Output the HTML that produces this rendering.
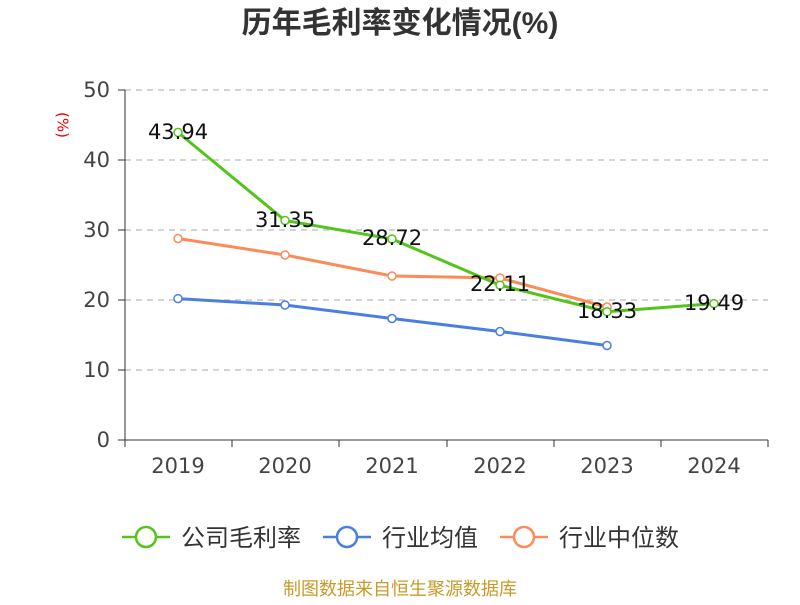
<!DOCTYPE html>
<html><head><meta charset="utf-8"><style>
html,body{margin:0;padding:0;background:#fff;}
svg text{font-family:"DejaVu Sans","Noto Sans CJK SC",sans-serif;}
</style></head><body>
<svg width="800" height="600" xmlns="http://www.w3.org/2000/svg">
<rect width="800" height="600" fill="#fff"/>
<text x="400" y="33" text-anchor="middle" font-size="30" font-weight="bold" fill="#333" style="font-family:'Liberation Sans','Noto Sans CJK SC',sans-serif">历年毛利率变化情况(%)</text>
<text x="62" y="125" font-size="15" fill="#e00" transform="rotate(90 62 125)" text-anchor="middle" dominant-baseline="middle">(%)</text>
<g stroke="#bbb" stroke-dasharray="6,5" stroke-width="1.2">
<line x1="125" y1="90" x2="768" y2="90"/><line x1="125" y1="160" x2="768" y2="160"/>
<line x1="125" y1="230" x2="768" y2="230"/><line x1="125" y1="300" x2="768" y2="300"/>
<line x1="125" y1="370" x2="768" y2="370"/>
</g>
<g stroke="#333" stroke-width="1">
<line x1="125" y1="90" x2="125" y2="440"/><line x1="125" y1="440" x2="768" y2="440"/>
<line x1="118" y1="90" x2="125" y2="90"/><line x1="118" y1="160" x2="125" y2="160"/>
<line x1="118" y1="230" x2="125" y2="230"/><line x1="118" y1="300" x2="125" y2="300"/>
<line x1="118" y1="370" x2="125" y2="370"/><line x1="118" y1="440" x2="125" y2="440"/>
<line x1="125" y1="440" x2="125" y2="447"/><line x1="232" y1="440" x2="232" y2="447"/>
<line x1="339" y1="440" x2="339" y2="447"/><line x1="447" y1="440" x2="447" y2="447"/>
<line x1="554" y1="440" x2="554" y2="447"/><line x1="661" y1="440" x2="661" y2="447"/>
<line x1="768" y1="440" x2="768" y2="447"/>
</g>
<g font-size="21" fill="#444" text-anchor="end">
<text x="110" y="97">50</text><text x="110" y="167">40</text><text x="110" y="237">30</text>
<text x="110" y="307">20</text><text x="110" y="377">10</text><text x="110" y="447">0</text>
</g>
<g font-size="21" fill="#444" text-anchor="middle">
<text x="178" y="473">2019</text><text x="285" y="473">2020</text><text x="392" y="473">2021</text>
<text x="500" y="473">2022</text><text x="607" y="473">2023</text><text x="714" y="473">2024</text>
</g>
<polyline fill="none" stroke="#4a7fe0" stroke-width="3" points="178,298.6 285,305 392,318.5 500,331.5 607,345.5"/>
<polyline fill="none" stroke="#fa8c5a" stroke-width="3" points="178,238.5 285,255 392,276 500,278 607,307"/>
<polyline fill="none" stroke="#52c41a" stroke-width="3" points="178,132.4 285,220.5 392,239 500,285.2 607,311.7 714,303.6"/>
<g fill="#fff" stroke-width="1.5">
<g stroke="#4a7fe0"><circle cx="178" cy="298.6" r="4"/><circle cx="285" cy="305" r="4"/><circle cx="392" cy="318.5" r="4"/><circle cx="500" cy="331.5" r="4"/><circle cx="607" cy="345.5" r="4"/></g>
<g stroke="#fa8c5a"><circle cx="178" cy="238.5" r="4"/><circle cx="285" cy="255" r="4"/><circle cx="392" cy="276" r="4"/><circle cx="500" cy="278" r="4"/><circle cx="607" cy="307" r="4"/></g>
<g stroke="#52c41a"><circle cx="178" cy="132.4" r="4"/><circle cx="285" cy="220.5" r="4"/><circle cx="392" cy="239" r="4"/><circle cx="500" cy="285.2" r="4"/><circle cx="607" cy="311.7" r="4"/><circle cx="714" cy="303.6" r="4"/></g>
</g>
<g font-size="21" fill="#111" text-anchor="middle">
<text x="178" y="139">43.94</text><text x="285" y="227">31.35</text><text x="392" y="245">28.72</text>
<text x="500" y="291">22.11</text><text x="607" y="318">18.33</text><text x="714" y="310">19.49</text>
</g>
<g stroke-width="2.5" fill="#fff">
<line x1="122" y1="537" x2="170" y2="537" stroke="#52c41a"/><circle cx="146" cy="537" r="10" stroke="#52c41a"/>
<line x1="323" y1="537" x2="371" y2="537" stroke="#4a7fe0"/><circle cx="347" cy="537" r="10" stroke="#4a7fe0"/>
<line x1="500" y1="537" x2="548" y2="537" stroke="#fa8c5a"/><circle cx="524" cy="537" r="10" stroke="#fa8c5a"/>
</g>
<g font-size="24" fill="#333">
<text x="181" y="546">公司毛利率</text><text x="382" y="546">行业均值</text><text x="559" y="546">行业中位数</text>
</g>
<text x="400" y="595" text-anchor="middle" font-size="18" fill="#c89a2a">制图数据来自恒生聚源数据库</text>
</svg>
</body></html>
